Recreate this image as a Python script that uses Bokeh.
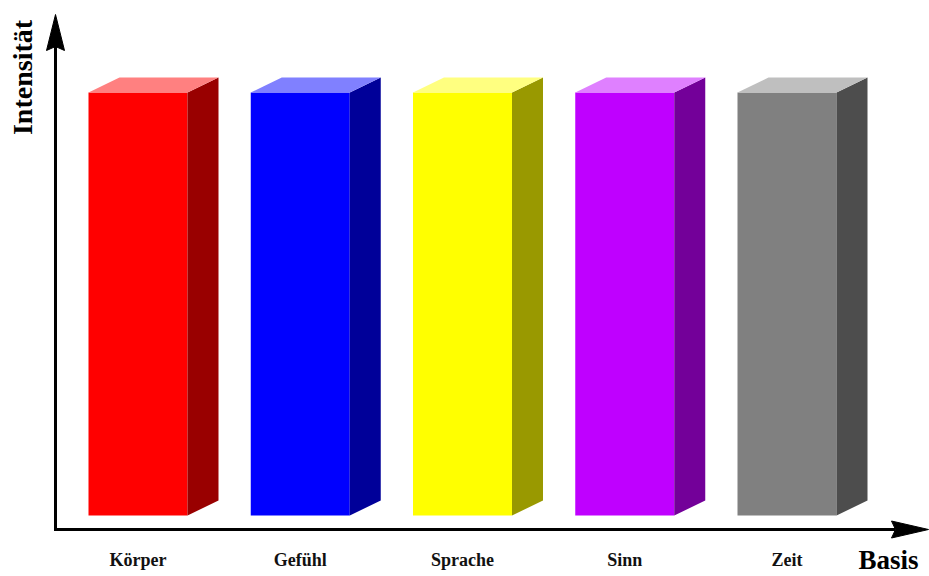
import math
from bokeh.plotting import figure
from bokeh.models import Range1d, ColumnDataSource
from bokeh.core.properties import value
from bokeh.embed import file_html
from bokeh.resources import INLINE

# ---- data ----
categories = ["Körper", "Gefühl", "Sprache", "Sinn", "Zeit"]
values = [100, 100, 100, 100, 100]
front_colors = ["#FF0000", "#0000FF", "#FFFF00", "#BF00FF", "#808080"]
side_colors = ["#990000", "#000099", "#999900", "#730099", "#4D4D4D"]
top_colors = ["#FF8080", "#8080FF", "#FFFF80", "#DF80FF", "#BFBFBF"]
x_title = "Basis"
y_title = "Intensität"

# ---- layout (pixel geometry) ----
W, H = 929, 576
X0, SX = 137.5, 162.25      # pixel of category 0 centre, pixels per category
Y0, SY = 515.0, 4.23        # pixel of value 0, pixels per value unit


def dx(px):
    return px / SX


def dy(px):
    return px / SY


def xd(px):
    return (px - X0) / SX


def yd(py):
    return (Y0 - py) / SY


p = figure(width=W, height=H, output_backend="svg", toolbar_location=None,
           x_range=Range1d(xd(0), xd(W)), y_range=Range1d(yd(H), yd(0)),
           x_axis_location=None, y_axis_location=None, min_border=0)
p.grid.visible = False
p.outline_line_color = None
p.background_fill_color = "white"
p.border_fill_color = "white"

half = dx(99) / 2
ddx, ddy = dx(31), dy(15)
xs = list(range(len(categories)))

src = ColumnDataSource(dict(x=xs, top=values, color=front_colors))
p.vbar(x="x", width=2 * half, bottom=0, top="top", fill_color="color",
       line_color=None, source=src)

side_x, side_y, top_x, top_y = [], [], [], []
for i, v in zip(xs, values):
    l, r = i - half, i + half
    side_x.append([r, r + ddx, r + ddx, r])
    side_y.append([0, ddy, v + ddy, v])
    top_x.append([l, l + ddx, r + ddx, r])
    top_y.append([v, v + ddy, v + ddy, v])
p.patches(side_x, side_y, fill_color=side_colors, line_color=None)
p.patches(top_x, top_y, fill_color=top_colors, line_color=None)

# ---- axes with arrows ----
ax_x, ax_y = 55, 529
p.line([xd(ax_x), xd(ax_x)], [yd(ax_y + 1.5), yd(45)], line_color="black", line_width=3)
p.line([xd(ax_x - 1.5), xd(895)], [yd(ax_y), yd(ax_y)], line_color="black", line_width=3)
# arrow heads
p.patch([xd(ax_x), xd(ax_x + 9), xd(ax_x), xd(ax_x - 9)],
        [yd(14), yd(50), yd(46), yd(50)], fill_color="black", line_color="black")
p.patch([xd(928), xd(891), xd(895), xd(891)],
        [yd(ax_y), yd(ax_y - 8.5), yd(ax_y), yd(ax_y + 8.5)],
        fill_color="black", line_color="black")

# ---- labels ----
p.text(x=xs, y=[yd(559)] * len(xs), text=categories,
       text_font=value("Liberation Serif"), text_font_style="bold",
       text_font_size="18px", text_align="center", text_baseline="middle",
       text_color="#111111")
p.text(x=[xd(888)], y=[yd(559)], text=[x_title],
       text_font=value("Liberation Serif"), text_font_style="bold",
       text_font_size="27px", text_align="center", text_baseline="middle",
       text_color="black")
p.text(x=[xd(22)], y=[yd(77)], text=[y_title], angle=math.pi / 2,
       text_font=value("Liberation Serif"), text_font_style="bold",
       text_font_size="28px", text_align="center", text_baseline="middle",
       text_color="black")

open("out.html", "w").write(file_html(p, INLINE))
